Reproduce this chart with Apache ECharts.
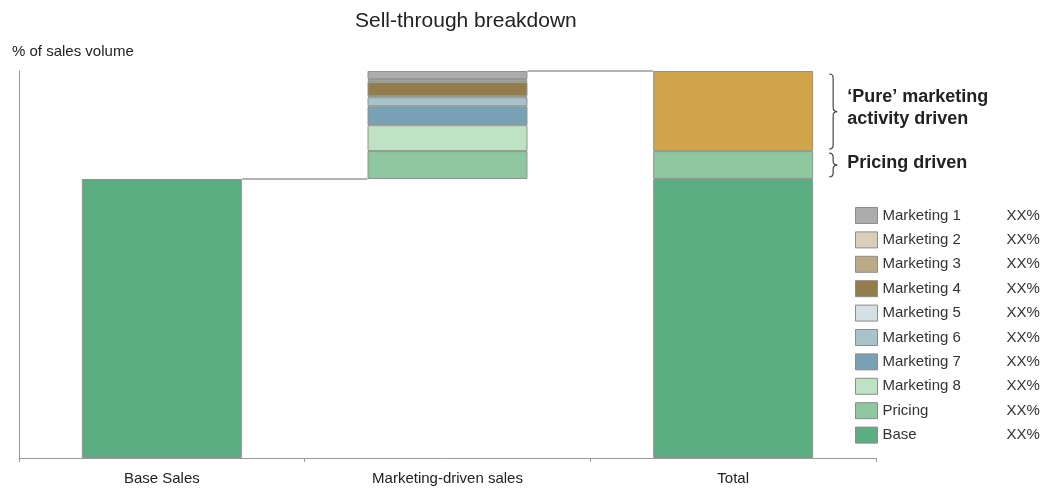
<!DOCTYPE html>
<html>
<head>
<meta charset="utf-8">
<title>Sell-through breakdown</title>
<script src="https://cdn.jsdelivr.net/npm/echarts@6/dist/echarts.min.js"></script>
<style>
  html, body { margin: 0; padding: 0; background: #ffffff; }
  #chart { width: 1048px; height: 489px; }
</style>
</head>
<body>
<div id="chart"></div>
<script>
// Categories along the x axis
const categories = ['Base Sales', 'Marketing-driven sales', 'Total'];

// Share of sales volume, in %
const baseShare = 72.1;
const pricingShare = 7.2;
const marketingNames = ['Marketing 1', 'Marketing 2', 'Marketing 3', 'Marketing 4',
                        'Marketing 5', 'Marketing 6', 'Marketing 7', 'Marketing 8'];
const marketingShares = [2.1, 0.3, 0.5, 3.6, 0.3, 2.3, 4.9, 6.7];

// Legend rows and their value text
const legendNames = [...marketingNames, 'Pricing', 'Base'];
const legendValueText = 'XX%';

// Annotation texts
const pureLabel = '\u2018Pure\u2019 marketing\nactivity driven';
const pricingLabel = 'Pricing driven';

const colors = {
  'Marketing 1': '#acacac',
  'Marketing 2': '#d9cfb8',
  'Marketing 3': '#bcaa87',
  'Marketing 4': '#947d4a',
  'Marketing 5': '#d4e0e6',
  'Marketing 6': '#a8c3cc',
  'Marketing 7': '#78a1b5',
  'Marketing 8': '#bfe2c5',
  'Pricing': '#8ec7a0',
  'Base': '#5bad82',
  'Pure': '#cfa44b'
};

const FONT = '"Liberation Sans", Arial, sans-serif';
const border = { borderColor: '#8e948f', borderWidth: 1 };

const pureShare = marketingShares.reduce((a, b) => a + b, 0);

const series = [];
series.push({
  name: 'Base', type: 'bar', stack: 'all', barWidth: '56%',
  data: [baseShare, '-', baseShare],
  itemStyle: Object.assign({ color: colors['Base'] }, border)
});
// invisible lift so the marketing stack starts at the base level
series.push({
  name: 'lift', type: 'bar', stack: 'all',
  data: ['-', baseShare, '-'],
  itemStyle: { color: 'rgba(0,0,0,0)' },
  emphasis: { disabled: true }, silent: true
});
series.push({
  name: 'Pricing', type: 'bar', stack: 'all',
  data: ['-', pricingShare, pricingShare],
  itemStyle: Object.assign({ color: colors['Pricing'] }, border)
});
for (let i = marketingNames.length - 1; i >= 0; i--) {
  const n = marketingNames[i];
  series.push({
    name: n, type: 'bar', stack: 'all',
    data: ['-', marketingShares[i], '-'],
    itemStyle: Object.assign({ color: colors[n] }, border)
  });
}
series.push({
  name: 'Pure', type: 'bar', stack: 'all',
  data: ['-', '-', pureShare],
  itemStyle: Object.assign({ color: colors['Pure'] }, border)
});

const chart = echarts.init(document.getElementById('chart'), null, { renderer: 'canvas' });

chart.setOption({
  animation: false,
  title: {
    text: 'Sell-through breakdown',
    left: 350, top: 6,
    textStyle: { fontFamily: FONT, fontSize: 21, fontWeight: 'normal', color: '#222' }
  },
  grid: { left: 19, right: 172, top: 71, bottom: 31, containLabel: false },
  legend: {
    data: legendNames,
    orient: 'vertical',
    left: 855, top: 207,
    padding: 0,
    icon: 'rect',
    itemWidth: 22, itemHeight: 16, itemGap: 7.4,
    itemStyle: { borderColor: '#8c8c8c', borderWidth: 1 },
    selectedMode: false,
    formatter: name => '{n|' + name + '}{v|' + legendValueText + '}',
    textStyle: {
      fontFamily: FONT, fontSize: 15, color: '#333',
      rich: {
        n: { fontFamily: FONT, fontSize: 15, color: '#333', width: 124 },
        v: { fontFamily: FONT, fontSize: 15, color: '#333' }
      }
    }
  },
  xAxis: {
    type: 'category',
    data: categories,
    axisLine: { lineStyle: { color: '#9a9a9a', width: 1 } },
    axisTick: { show: true, length: 4, lineStyle: { color: '#9a9a9a' } },
    axisLabel: { fontFamily: FONT, fontSize: 15, color: '#222', margin: 13 }
  },
  yAxis: {
    type: 'value', min: 0, max: 100,
    axisLine: { show: true, lineStyle: { color: '#9a9a9a', width: 1 } },
    axisTick: { show: false },
    axisLabel: { show: false },
    splitLine: { show: false }
  },
  series: series
});

// Annotations placed from the data values through the axes
const px = (cat, v) => chart.convertToPixel({ xAxisIndex: 0, yAxisIndex: 0 }, [cat, v]);
const c0 = px(categories[0], 0)[0];
const c1 = px(categories[1], 0)[0];
const c2 = px(categories[2], 0)[0];
const band = c1 - c0;
const half = band * 0.56 / 2;
const yBase = px(categories[0], baseShare)[1];
const yPricing = px(categories[2], baseShare + pricingShare)[1];
const yTop = px(categories[2], baseShare + pricingShare + pureShare)[1];

const braceStyle = { stroke: '#444', lineWidth: 1.2, fill: null };

// Curly brace "}" built from quadratic curves and straight runs
function brace(x, y1, y2, w) {
  const ym = (y1 + y2) / 2;
  const r = Math.min(4, (y2 - y1) / 4);
  const xm = x + w / 2;
  const curve = (ax, ay, cx, cy, bx, by) => ({
    type: 'bezierCurve', silent: true,
    shape: { x1: ax, y1: ay, x2: bx, y2: by, cpx1: cx, cpy1: cy },
    style: braceStyle
  });
  const seg = (ax, ay, bx, by) => ({
    type: 'line', silent: true,
    shape: { x1: ax, y1: ay, x2: bx, y2: by }, style: braceStyle
  });
  return [
    curve(x, y1, xm, y1, xm, y1 + r),
    seg(xm, y1 + r, xm, ym - r),
    curve(xm, ym - r, xm, ym, x + w, ym),
    curve(x + w, ym, xm, ym, xm, ym + r),
    seg(xm, ym + r, xm, y2 - r),
    curve(xm, y2 - r, xm, y2, x, y2)
  ];
}

const braceX = c2 + half + 16;
const textX = braceX + 18;
const lineStyle = { stroke: '#9a9a9a', lineWidth: 1.5 };

chart.setOption({
  graphic: [
    { type: 'text', x: 12, y: 44,
      style: { text: '% of sales volume', font: '15px ' + FONT, fill: '#222' } },
    { type: 'line', silent: true,
      shape: { x1: c0 + half, y1: yBase, x2: c1 - half, y2: yBase }, style: lineStyle },
    { type: 'line', silent: true,
      shape: { x1: c1 + half, y1: yTop, x2: c2 - half, y2: yTop }, style: lineStyle },
    ...brace(braceX, yTop + 3, yPricing - 2, 8),
    ...brace(braceX, yPricing + 2, yBase - 2, 8),
    { type: 'text', silent: true, x: textX, y: (yTop + yPricing) / 2 - 3,
      style: { text: pureLabel, font: 'bold 18px ' + FONT, fill: '#222',
               lineHeight: 22, verticalAlign: 'middle' } },
    { type: 'text', silent: true, x: textX, y: (yPricing + yBase) / 2 - 2,
      style: { text: pricingLabel, font: 'bold 18px ' + FONT, fill: '#222',
               verticalAlign: 'middle' } }
  ]
});
</script>
</body>
</html>
